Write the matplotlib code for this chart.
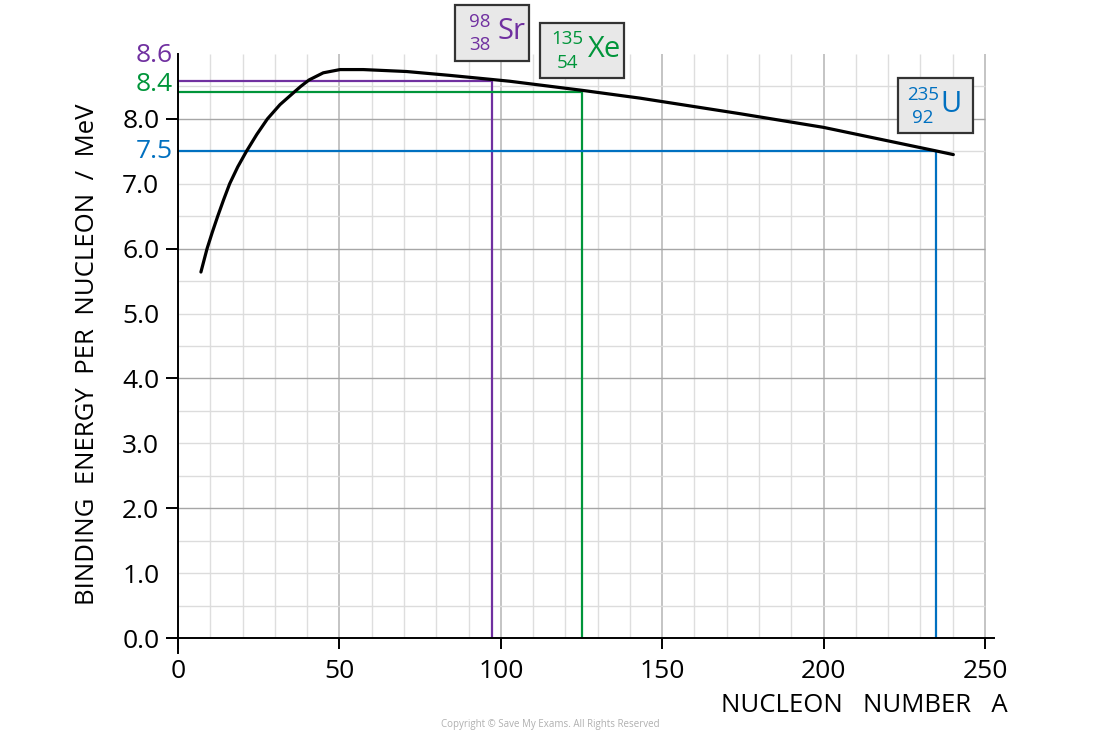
import numpy as np
import matplotlib
matplotlib.use("Agg")
import matplotlib.pyplot as plt
from matplotlib.patches import Rectangle

plt.rcParams['font.family'] = ['Open Sans', 'DejaVu Sans']

# ---- data ----
nucleon_A = [7.1, 9.0, 10.6, 12.3, 14.1, 16.0, 18.5, 21.2, 24.4, 27.7, 31.6,
             35.7, 38.0, 40.6, 45.0, 50.2, 57.4, 70.8, 84.3, 96.7, 102.8,
             125.2, 143.1, 174.1, 199.9, 234.5, 240.2]
binding_E = [5.64, 6.00, 6.25, 6.50, 6.75, 7.00, 7.26, 7.50, 7.76, 8.00, 8.22,
             8.40, 8.50, 8.60, 8.71, 8.76, 8.76, 8.73, 8.67, 8.61, 8.58,
             8.44, 8.32, 8.08, 7.87, 7.51, 7.45]

ref_A = [97.3, 125.2, 234.8]
ref_E = [8.59, 8.42, 7.50]
ref_labels = ['8.6', '8.4', '7.5']
ref_colors = ['#7030A0', '#00953A', '#0070C0']

elements = ['Sr', 'Xe', 'U']
mass_numbers = ['98', '135', '235']
atomic_numbers = ['38', '54', '92']

x_ticks = [0, 50, 100, 150, 200, 250]
y_major = [0, 2, 4, 6, 8]
y_minor = [1, 3, 5, 7]

W, H = 1100, 738
fig = plt.figure(figsize=(W / 100, H / 100), dpi=100)

def fx(px):
    return px / W

def fy(py):
    return 1 - py / H

ax = fig.add_axes([fx(167), fy(653), (994 - 167) / W, (653 - 54) / H])
ax.set_xlim(-3.41, 252.8)
ax.set_ylim(-0.231, 9.0)

# grid drawn only inside the 0..250, 0..9 region
for xv in np.arange(10, 251, 10):
    major = (xv % 50 == 0)
    ax.vlines(xv, 0, 9.0, colors='#c4c4c4' if major else '#dedede',
              lw=1.4 if major else 1.0, zorder=1)
for yv in np.arange(0.5, 8.6, 0.5):
    major = (abs(yv % 2) < 1e-9)
    ax.hlines(yv, 0, 250, colors='#a6a6a6' if major else '#dcdcdc',
              lw=1.0, zorder=1)

# reference lines
for a, e, c in zip(ref_A, ref_E, ref_colors):
    ax.plot([0, a], [e, e], color=c, lw=1.6, zorder=3, solid_capstyle='butt')
    ax.plot([a, a], [0, e], color=c, lw=1.6, zorder=3, solid_capstyle='butt')

# curve
ax.plot(nucleon_A, binding_E, color='black', lw=2.3, zorder=4,
        solid_capstyle='round', solid_joinstyle='round')

# spines
for s in ['top', 'right']:
    ax.spines[s].set_visible(False)
ax.spines['left'].set_position(('data', 0))
ax.spines['bottom'].set_position(('data', 0))
for s in ['left', 'bottom']:
    ax.spines[s].set_linewidth(1.4)
    ax.spines[s].set_zorder(5)

ax.set_xticks(x_ticks)
ax.set_xticklabels([str(v) for v in x_ticks])
ax.tick_params(axis='x', direction='out', length=8, width=1.4, pad=7,
               labelsize=19)
ax.set_yticks(y_major)
ax.set_yticklabels([f'{v:.1f}' for v in y_major])
ax.set_yticks(y_minor, minor=True)
ax.set_yticklabels([f'{v:.1f}' for v in y_minor], minor=True)
ax.tick_params(axis='y', which='major', direction='out', length=9, width=1.4,
               pad=4.5, labelsize=19)
ax.tick_params(axis='y', which='minor', length=0, pad=13.5, labelsize=19)

# coloured value labels on the y axis
label_offsets = [0.38, 0.11, 0.0]
for e, lab, c, off in zip(ref_E, ref_labels, ref_colors, label_offsets):
    ax.text(-1.6, e + off, lab, color=c, fontsize=19, ha='right', va='center',
            clip_on=False)

# axis titles
fig.text(fx(88), fy(354), 'BINDING  ENERGY  PER  NUCLEON  /  MeV',
         rotation=90, ha='center', va='center', fontsize=18.5)
fig.text(fx(1008), fy(705), 'NUCLEON   NUMBER   A', ha='right', va='center',
         fontsize=18.5)

# element boxes
box_px = [(455, 5, 74, 56), (540, 23, 84, 55), (898, 78, 75, 55)]
for (bx, by, bw, bh), sym, m, z, c in zip(box_px, elements, mass_numbers,
                                          atomic_numbers, ref_colors):
    fig.patches.append(Rectangle((fx(bx), fy(by + bh)), bw / W, bh / H,
                                 transform=fig.transFigure, facecolor='#e8e8e8',
                                 edgecolor='#333333', lw=1.6, zorder=6))
    nx = bx + bw * 0.33
    fig.text(fx(nx), fy(by + bh * 0.30), m, color=c, fontsize=13.5,
             ha='center', va='center', zorder=7)
    fig.text(fx(nx), fy(by + bh * 0.72), z, color=c, fontsize=13.5,
             ha='center', va='center', zorder=7)
    fig.text(fx(bx + bw * 0.57), fy(by + bh * 0.48), sym, color=c,
             fontsize=21, ha='left', va='center', zorder=7)

fig.text(0.5, fy(725), 'Copyright © Save My Exams. All Rights Reserved',
         ha='center', va='center', fontsize=7, color='#b0b0b0')

fig.savefig('out.png', dpi=100)
